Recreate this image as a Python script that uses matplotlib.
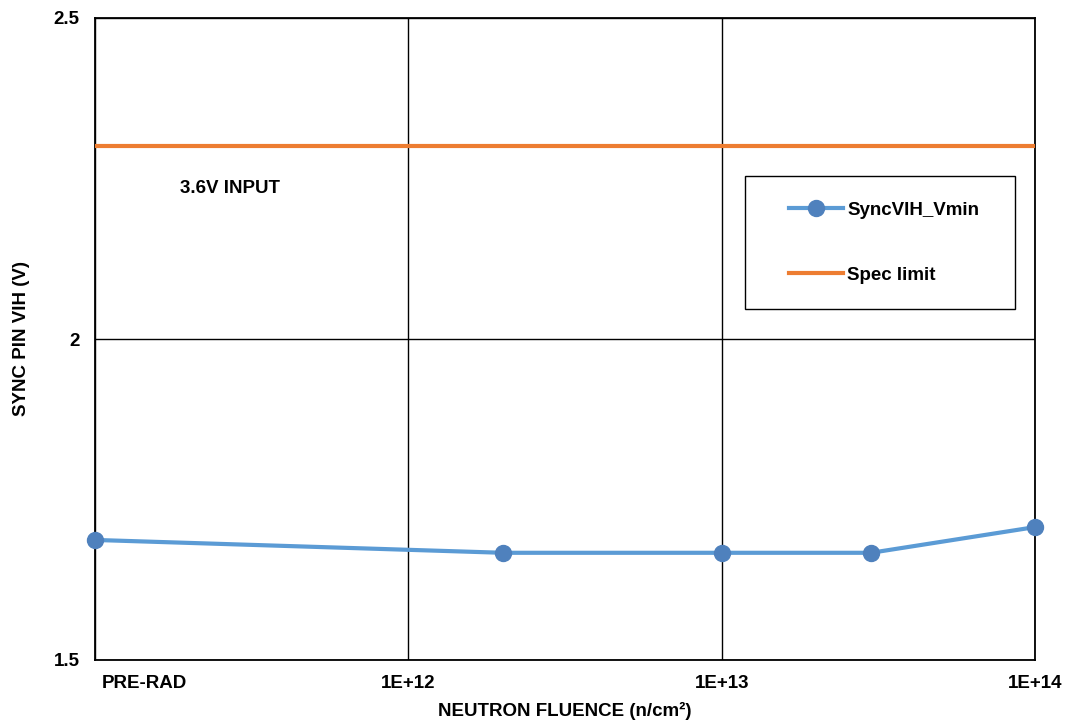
import numpy as np
import matplotlib.pyplot as plt
import matplotlib.transforms as mtransforms
from matplotlib.patches import Rectangle

plt.rcParams['font.family'] = ['Liberation Sans', 'DejaVu Sans']
plt.rcParams['font.weight'] = 'bold'

# fluence points (PRE-RAD plotted at 1E+11)
fluence = [1e11, 2e12, 1e13, 3e13, 1e14]
vih_vmin = [1.687, 1.667, 1.667, 1.667, 1.707]
spec_x = [1e11, 1e14]
spec_limit = [2.3, 2.3]
xticks = [1e11, 1e12, 1e13, 1e14]
xticklabels = ['PRE-RAD', '1E+12', '1E+13', '1E+14']
yticks = [1.5, 2, 2.5]
yticklabels = ['1.5', '2', '2.5']

fs = 13.5

fig = plt.figure(figsize=(10.67, 7.23), dpi=100)
ax = fig.add_axes([95/1067, 63/723, 940/1067, 642/723])

ax.plot(fluence, vih_vmin, color='#5B9BD5', lw=3, marker='o', ms=11.5,
        mfc='#4F81BD', mec='#4F81BD', label='SyncVIH_Vmin', zorder=4, clip_on=False)
ax.plot(spec_x, spec_limit, color='#ED7D31', lw=3, label='Spec limit', zorder=3)

ax.set_xscale('log')
ax.set_xlim(1e11, 1e14)
ax.set_ylim(1.5, 2.5)
ax.set_xticks(xticks)
ax.set_xticklabels(xticklabels)
ax.minorticks_off()
ax.set_yticks(yticks)
ax.set_yticklabels(yticklabels)
ax.tick_params(length=0, labelsize=fs, pad=11)
lab0 = ax.get_xticklabels()[0]
lab0.set_ha('left')
lab0.set_transform(lab0.get_transform() +
                   mtransforms.ScaledTranslation(7/100, 0, fig.dpi_scale_trans))
ax.grid(True, color='black', lw=1)
for s in ax.spines.values():
    s.set_linewidth(1.3)
    s.set_color('black')

ax.set_xlabel('NEUTRON FLUENCE (n/cm²)', fontsize=fs, fontweight='bold', labelpad=7)
ax.set_ylabel('SYNC PIN VIH (V)', fontsize=fs, fontweight='bold', labelpad=17)

ax.text(0.09, 0.735, '3.6V INPUT', transform=ax.transAxes, fontsize=fs,
        fontweight='bold', va='center')

# legend box
ax.add_patch(Rectangle((650/940, 351/642), 270/940, 133/642, transform=ax.transAxes,
                       facecolor='white', edgecolor='black', lw=1, zorder=5))
leg = ax.legend(loc='center left', bbox_to_anchor=(694/940, 417.5/642),
                frameon=False, handlelength=2.9, handletextpad=0.2,
                labelspacing=2.55, borderpad=0, borderaxespad=0,
                prop={'weight': 'bold', 'size': fs})
leg.set_zorder(6)

fig.savefig('out.png', dpi=100)
